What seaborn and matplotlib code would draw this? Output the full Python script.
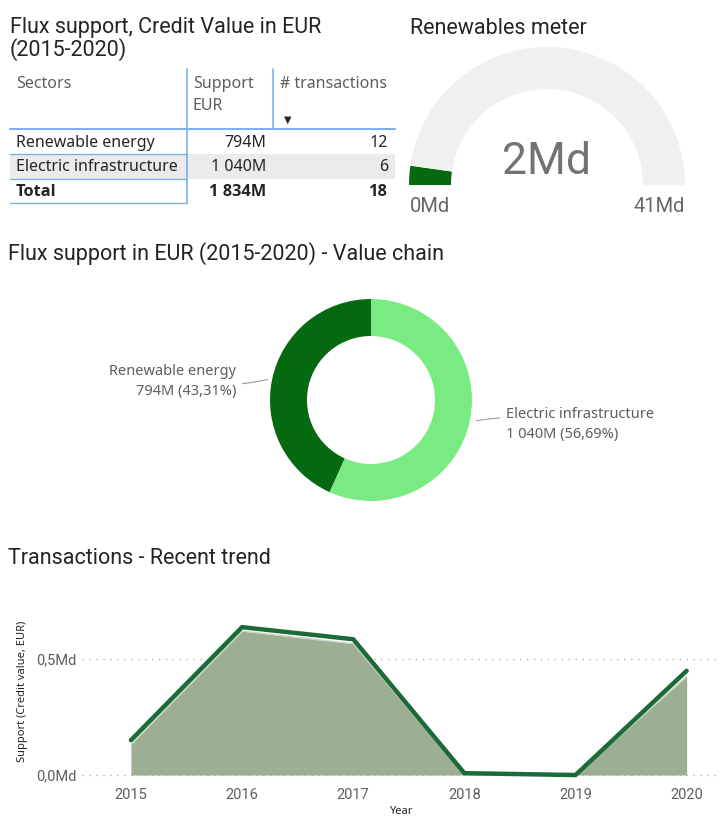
import numpy as np
import pandas as pd
import seaborn as sns
import matplotlib.pyplot as plt
from matplotlib.patches import Rectangle

### DATA
sectors = ['Renewable energy', 'Electric infrastructure']
support_m = [794, 1040]
support_txt = ['794M', '1 040M']
transactions = [12, 6]
total_txt = '1 834M'
total_tx = 18
header = ['Sectors', 'Support\nEUR', '# transactions']

gauge_value = 1.834
gauge_max = 41
gauge_txt = '2Md'
gauge_ends = ['0Md', '41Md']

share_txt = ['794M (43,31%)', '1 040M (56,69%)']

years = [2015, 2016, 2017, 2018, 2019, 2020]
support_line = [0.150, 0.637, 0.585, 0.008, 0.000, 0.449]
support_area = [0.132, 0.620, 0.566, 0.000, 0.000, 0.425]
y_ticks = [0.0, 0.5]
y_ticklabels = ['0,0Md', '0,5Md']

### STYLE
W, H = 722, 816
title_font = 'Roboto'
body_font = 'Noto Sans'
bold_font = 'Open Sans'
dark_green = '#05690f'
light_green = '#7aeb82'
line_green = '#1c6a38'
area_green = '#9caf92'
blue = '#7eb0ea'
grey_txt = '#605e5c'

sns.set_theme(style='white')
plt.rcParams['font.family'] = [body_font, 'DejaVu Sans']

fig = plt.figure(figsize=(W / 100, H / 100), dpi=100)
ax = fig.add_axes([0, 0, 1, 1])


def Y(py):
    return H - py


def title(x, py, s):
    ax.text(x, Y(py), s, fontsize=15.5, family=title_font, color='#252423',
            va='center', ha='left')


### TABLE
title(10, 28, 'Flux support, Credit Value in EUR')
title(10, 50, '(2015-2020)')

col_x = [16, 193, 280]
ax.text(col_x[0], Y(84), header[0], fontsize=11.5, color=grey_txt, va='center')
ax.text(col_x[1], Y(95), header[1], fontsize=11.5, color=grey_txt, va='center',
        linespacing=1.55)
ax.text(col_x[2], Y(84), header[2], fontsize=11.5, color=grey_txt, va='center')
ax.text(284, Y(120), '\u25bc', fontsize=7, color='#252423', va='center')

ax.add_patch(Rectangle((10, Y(179)), 385, 25, color='#ebebeb', lw=0))
row_y = [143, 167]
for name, txt, n, py in zip(sectors, support_txt, transactions, row_y):
    ax.text(col_x[0], Y(py), name, fontsize=11.5, color='#252423', va='center')
    ax.text(266, Y(py), txt, fontsize=11.5, color='#252423', va='center', ha='right')
    ax.text(388, Y(py), str(n), fontsize=11.5, color='#252423', va='center', ha='right')
bold = dict(fontsize=11.8, color='#252423', va='center', fontweight='bold',
            family=[bold_font, 'DejaVu Sans'])
ax.text(col_x[0], Y(192), 'Total', **bold)
ax.text(266, Y(192), total_txt, ha='right', **bold)
ax.text(388, Y(192), str(total_tx), ha='right', **bold)

ax.plot([10, 395], [Y(129), Y(129)], color=blue, lw=1.5)
ax.plot([187, 187], [Y(69), Y(203)], color=blue, lw=1.2)
ax.plot([273, 273], [Y(69), Y(129)], color=blue, lw=1.2)
for py in [154, 179, 203]:
    ax.plot([10, 187], [Y(py), Y(py)], color=blue, lw=1.0)

### GAUGE
title(410, 28, 'Renewables meter')
ax.pie([gauge_value, gauge_max - gauge_value, gauge_max],
       colors=[dark_green, '#f0f0f0', 'none'], startangle=180, counterclock=False,
       center=(547, Y(185)), radius=138, wedgeprops=dict(width=42, lw=0))
ax.text(547, Y(162), gauge_txt, fontsize=32, family=title_font,
        color='#727272', ha='center', va='center')
ax.text(410, Y(207), gauge_ends[0], fontsize=14.5, family=title_font,
        color='#666666', ha='left', va='center')
ax.text(685, Y(207), gauge_ends[1], fontsize=14.5, family=title_font,
        color='#666666', ha='right', va='center')

### DONUT
title(8, 254, 'Flux support in EUR (2015-2020) - Value chain')
cx, cy, R = 371, Y(400), 101
wedges, _ = ax.pie(support_m, colors=[dark_green, light_green], startangle=90,
                   counterclock=True, center=(cx, cy), radius=R,
                   wedgeprops=dict(width=37, lw=0))
for w, name, txt in zip(wedges, sectors, share_txt):
    ang = np.deg2rad((w.theta1 + w.theta2) / 2)
    px, py = cx + R * np.cos(ang), cy + R * np.sin(ang)
    left = np.cos(ang) < 0
    tx = px - 36 if left else px + 36
    ax.annotate(f'{name}\n{txt}', xy=(px + (-2 if left else 4), py),
                xytext=(tx, py - 3), ha='right' if left else 'left', va='center',
                fontsize=10.5, color=grey_txt, linespacing=1.45,
                arrowprops=dict(arrowstyle='-', color='#9a9a9a', lw=0.8,
                                connectionstyle='arc3,rad=0.1'))

title(8, 558, 'Transactions - Recent trend')

ax.set_xlim(0, W)
ax.set_ylim(0, H)
ax.set_aspect('auto')
ax.axis('off')

### TREND
tax = fig.add_axes([82 / W, (H - 782) / H, (720 - 82) / W, (782 - 600) / H])
df = pd.DataFrame({'Year': years, 'line': support_line, 'area': support_area})
tax.fill_between(df['Year'], 0, df['area'], color=area_green, lw=0)
tax.plot(df['Year'], df['area'], color='#c9d5c3', lw=1)
sns.lineplot(data=df, x='Year', y='line', color=line_green, lw=3.2, ax=tax,
             solid_joinstyle='miter')
tax.set_xlim(2014.56, 2020.3)
tax.set_ylim(-0.030, 0.754)
tax.set_xticks(years)
tax.set_xticklabels([str(y) for y in years], family=title_font, fontsize=10.5,
                    color=grey_txt)
tax.set_yticks(y_ticks)
tax.set_yticklabels(y_ticklabels, family=title_font, fontsize=10.5, color=grey_txt)
tax.tick_params(length=0, pad=4)
tax.yaxis.grid(True, linestyle=(0, (1, 4)), color='#b0b0b0', lw=1)
tax.xaxis.grid(False)
for s in tax.spines.values():
    s.set_visible(False)
tax.set_facecolor('none')
tax.set_ylabel('Support (Credit value, EUR)', fontsize=8, color='#252423',
               fontweight='semibold', labelpad=6)
tax.set_xlabel('Year', fontsize=8, color='#252423', fontweight='semibold', labelpad=3)

fig.savefig('out.png', dpi=100)
